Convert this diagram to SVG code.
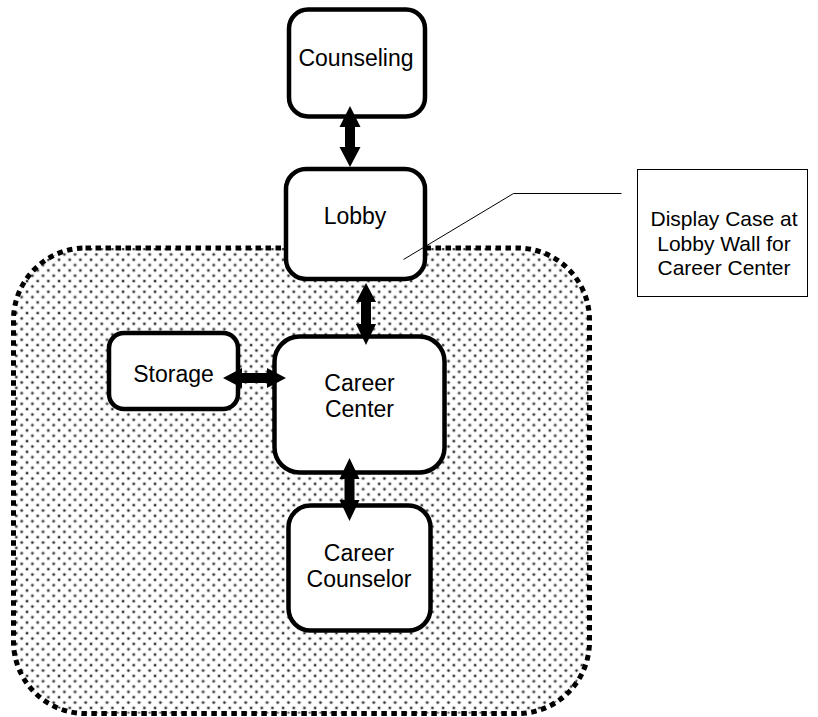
<svg xmlns="http://www.w3.org/2000/svg" width="818" height="717" viewBox="0 0 818 717">
  <defs>
    <!-- staggered dot screen used for the career-center zone -->
    <pattern id="dots" patternUnits="userSpaceOnUse" x="3.7" y="1.7" width="10.67" height="10.67">
      <circle cx="2" cy="2" r="2" fill="#c4c4c4"/>
      <circle cx="2" cy="2" r="1.1" fill="#1e1e1e"/>
      <circle cx="7.33" cy="7.33" r="2" fill="#c4c4c4"/>
      <circle cx="7.33" cy="7.33" r="1.1" fill="#1e1e1e"/>
    </pattern>
  </defs>
  <style>
    .room { fill: #ffffff; stroke: #000000; stroke-width: 4.5; }
    .label { font-family: "Liberation Sans", Arial, sans-serif; font-size: 23px; fill: #000000; text-anchor: middle; }
    .note { font-family: "Liberation Sans", Arial, sans-serif; font-size: 21px; fill: #000000; text-anchor: middle; }
    .arrow { fill: #000000; stroke: none; }
  </style>
  <rect width="818" height="717" fill="#ffffff"/>

  <!-- zone covered by the career center -->
  <g id="zone">
    <rect x="13.5" y="248" width="576" height="465.5" rx="72" ry="72" fill="url(#dots)" stroke="#000000" stroke-width="5" stroke-dasharray="5.5 4.5"/>
  </g>

  <g id="counseling">
    <rect class="room" x="289" y="9.5" width="136" height="107" rx="19" ry="19"/>
    <text class="label" x="356" y="66">Counseling</text>
  </g>

  <g id="lobby">
    <rect class="room" x="286" y="169" width="139" height="110" rx="20" ry="20"/>
    <text class="label" x="355" y="224">Lobby</text>
  </g>

  <g id="storage">
    <rect class="room" x="109" y="333" width="129" height="76" rx="15" ry="15"/>
    <text class="label" x="173.5" y="381.5">Storage</text>
  </g>

  <g id="career-center">
    <rect class="room" x="274.5" y="336.5" width="170" height="136" rx="25" ry="25"/>
    <text class="label" x="359.5" y="391">Career</text>
    <text class="label" x="359.5" y="417">Center</text>
  </g>

  <g id="career-counselor">
    <rect class="room" x="288.5" y="505.5" width="142" height="125" rx="22" ry="22"/>
    <text class="label" x="359" y="560.5">Career</text>
    <text class="label" x="359" y="587">Counselor</text>
  </g>

  <g id="display-case">
    <rect x="637.5" y="169.5" width="170" height="127" fill="#ffffff" stroke="#000000" stroke-width="1"/>
    <text class="note" x="724" y="226">Display Case at</text>
    <text class="note" x="724" y="250.5">Lobby Wall for</text>
    <text class="note" x="724" y="275">Career Center</text>
  </g>

  <g id="connectors">
    <!-- callout leader to the lobby wall -->
    <polyline points="621.5,193.5 513.5,193.5 403.5,259.5" fill="none" stroke="#000000" stroke-width="1"/>
    <!-- Counseling <-> Lobby -->
    <polygon class="arrow" points="350,106 360.5,127 355,127 355,147 360.5,147 350,167 339.5,147 345,147 345,127 339.5,127"/>
    <!-- Lobby <-> Career Center -->
    <polygon class="arrow" points="366,283 376,302 371,302 371,324 376,324 366,345 356,324 361,324 361,302 356,302"/>
    <!-- Storage <-> Career Center -->
    <polygon class="arrow" points="223,378 242,368 242,373 267,373 267,368 286,378 267,388 267,383 242,383 242,388"/>
    <!-- Career Center <-> Career Counselor -->
    <polygon class="arrow" points="349.5,458 359.5,479 354.5,479 354.5,500 359.5,500 349.5,521 339.5,500 344.5,500 344.5,479 339.5,479"/>
  </g>
</svg>
